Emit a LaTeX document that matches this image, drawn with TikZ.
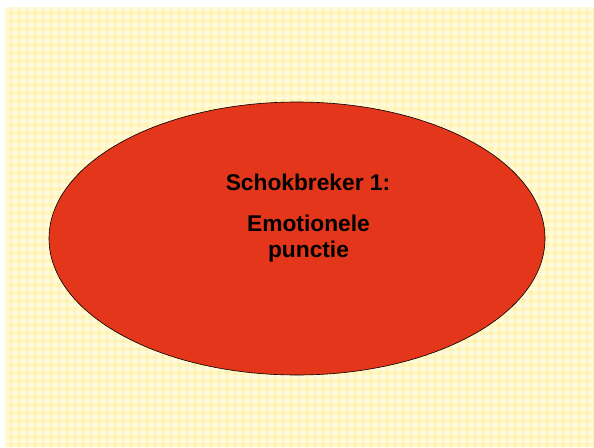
\documentclass[tikz,border=0pt]{standalone}
\usepackage{fontspec}
\setmainfont{Liberation Sans}
\definecolor{bgyellow}{RGB}{255,240,170}
\definecolor{bgwhite}{RGB}{255,252,230}
\definecolor{ellred}{RGB}{227,54,26}
\tikzset{
  bg/.style={fill=bgyellow, draw=none},
  ell/.style={ellipse, fill=ellred, draw=black, line width=0.6pt, minimum width=496pt, minimum height=273pt, inner sep=0pt},
  lbl/.style={font=\bfseries\fontsize{22.75}{26}\selectfont, align=center, text=black, inner sep=0pt, anchor=base}
}
\usetikzlibrary{shapes.geometric}
\begin{document}
\begin{tikzpicture}[x=1pt,y=-1pt]
\useasboundingbox (0,0) rectangle (594,447);
\fill[white] (0,0) rectangle (594,447);
\path[bg] (5,7) rectangle (594,447);
\begin{scope}
\clip (5,7) rectangle (594,447);
\foreach \i in {0,...,74} {
  \fill[bgwhite, opacity=0.6] (5+\i*8,7) rectangle (9+\i*8,447);
}
\foreach \j in {0,...,55} {
  \fill[bgwhite, opacity=0.6] (5,7+\j*8) rectangle (594,11+\j*8);
}
\end{scope}
\node[ell] (e) at (297,238.5) {};
\node[lbl] (t1) at (308,190) {Schokbreker 1:};
\node[lbl] (t2) at (308.5,231.7) {Emotionele};
\node[lbl] (t3) at (308.5,257.7) {punctie};
\end{tikzpicture}
\end{document}
